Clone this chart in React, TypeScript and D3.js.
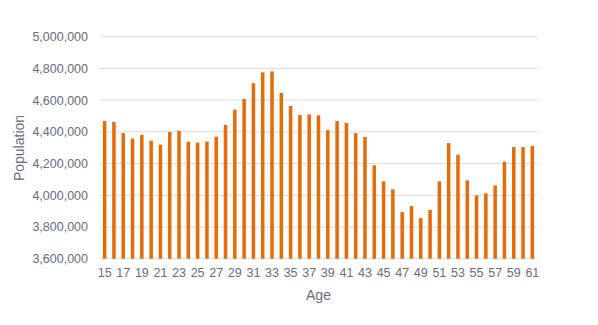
import React from "react";
import * as d3 from "d3";

const ages: number[] = [15,16,17,18,19,20,21,22,23,24,25,26,27,28,29,30,31,32,33,34,35,36,37,38,39,40,41,42,43,44,45,46,47,48,49,50,51,52,53,54,55,56,57,58,59,60,61];
const population: number[] = [
  4468000, 4462000, 4392000, 4357000, 4380000, 4344000, 4319000, 4399000, 4407000, 4338000,
  4332000, 4338000, 4369000, 4443000, 4540000, 4607000, 4706000, 4775000, 4781000, 4645000,
  4563000, 4506000, 4510000, 4504000, 4411000, 4468000, 4456000, 4392000, 4367000, 4189000,
  4088000, 4037000, 3894000, 3932000, 3856000, 3907000, 4088000, 4329000, 4256000, 4094000,
  3999000, 4012000, 4062000, 4212000, 4304000, 4304000, 4311000,
];
const yTicks: number[] = [3600000, 3800000, 4000000, 4200000, 4400000, 4600000, 4800000, 5000000];
const xTickAges: number[] = ages.filter((a) => a % 2 === 1);

export default function App() {
  const W = 598, H = 325;
  const left = 100, right = 537, top = 36.7, bottom = 258.7;
  const x = d3.scaleBand<number>().domain(ages).range([left, right]).paddingInner(0.62).paddingOuter(0.31);
  const y = d3.scaleLinear().domain([3600000, 5000000]).range([bottom, top]);
  const fmt = d3.format(",");
  const textColor = "#686c7c";
  const font = "'Liberation Sans', Arial, sans-serif";
  return (
    <svg width={W} height={H} style={{ position: "absolute", left: 0, top: 0, background: "#fff" }}>
      {yTicks.map((t) => (
        <g key={t}>
          <line x1={left} x2={right} y1={y(t)} y2={y(t)} stroke="#d9d9d9" strokeWidth={1} />
          <text x={88} y={y(t)} dy="0.35em" textAnchor="end" fontSize={12.5} fill={textColor} fontFamily={font}>
            {fmt(t)}
          </text>
        </g>
      ))}
      {ages.map((a, i) => (
        <rect key={a} x={x(a)} y={y(population[i])} width={x.bandwidth()} height={bottom - y(population[i])} fill="#e46c0a" />
      ))}
      {xTickAges.map((a) => (
        <text key={a} x={(x(a) as number) + x.bandwidth() / 2} y={273} dy="0.35em" textAnchor="middle" fontSize={12.5} fill={textColor} fontFamily={font}>
          {a}
        </text>
      ))}
      <text x={(left + right) / 2} y={295} dy="0.35em" textAnchor="middle" fontSize={14} fill={textColor} fontFamily={font}>
        Age
      </text>
      <text transform={`translate(19,148) rotate(-90)`} dy="0.35em" textAnchor="middle" fontSize={14} fill={textColor} fontFamily={font}>
        Population
      </text>
    </svg>
  );
}
